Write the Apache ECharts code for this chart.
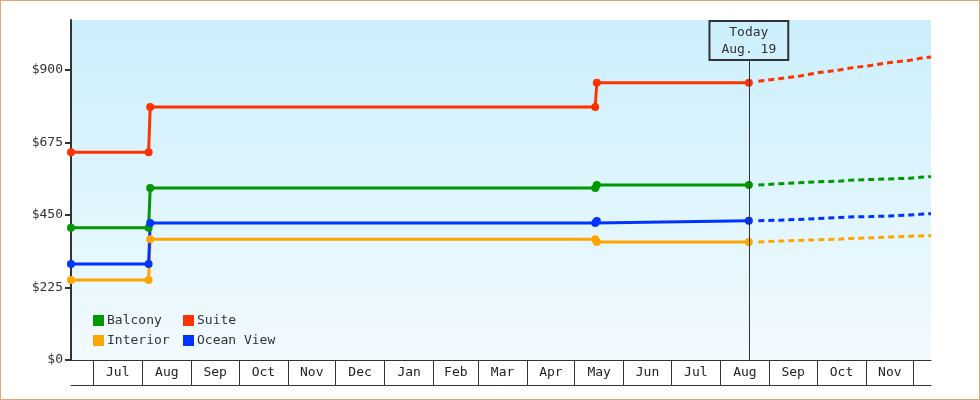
<!DOCTYPE html>
<html>
<head>
<meta charset="utf-8">
<script src="https://cdn.jsdelivr.net/npm/echarts@6/dist/echarts.min.js"></script>
<style>
  body { margin: 0; background: #fff; }
  #wrap { position: relative; width: 980px; height: 400px; }
  #chart { width: 980px; height: 400px; }
  #frame { position: absolute; left: 0; top: 0; width: 980px; height: 400px; box-sizing: border-box;
           border: 1px solid #e3a66b; pointer-events: none; }
</style>
</head>
<body>
<div id="wrap">
  <div id="chart"></div>
  <div id="frame"></div>
</div>
<script>
// month names shown under the axis (one per full month band)
const monthNames = ['Jul','Aug','Sep','Oct','Nov','Dec','Jan','Feb','Mar','Apr','May','Jun','Jul','Aug','Sep','Oct','Nov'];
const yTicks = [0, 225, 450, 675, 900];

// history (solid lines)
const histDates = ['2018-06-17','2018-08-05','2018-08-06','2019-05-14','2019-05-15','2019-08-19'];
const balcony   = [410, 410, 534, 534, 543, 543];
const suite     = [645, 645, 785, 785, 860, 860];
const interior  = [248, 248, 375, 375, 366, 366];
const oceanView = [298, 298, 425, 425, 431, 432];

// forecast (dashed lines)
const fcDates = ['2019-08-25','2019-09-07','2019-09-19','2019-10-02','2019-10-15','2019-10-22','2019-11-04','2019-11-16','2019-11-29','2019-12-05','2019-12-12'];
const balconyFc   = [543, 547, 550, 553, 555, 558, 560, 562, 564, 567, 569];
const suiteFc     = [865, 873, 880, 892, 900, 906, 914, 923, 930, 936, 940];
const interiorFc  = [366, 369, 371, 373, 375, 377, 379, 382, 384, 385, 386];
const oceanViewFc = [432, 434, 436, 439, 442, 444, 445, 447, 450, 452, 454];

const today = '2019-08-19';
const todayLabel = 'Today\nAug. 19';

const FONT = 'DejaVu Sans Mono';
const colors = { Balcony: '#009900', Suite: '#ff3300', Interior: '#ffa500', 'Ocean View': '#0033ff' };

// 'YYYY-MM-DD' -> local timestamp
function ts(s) {
  const p = s.split('-');
  return new Date(+p[0], +p[1] - 1, +p[2]).getTime();
}

const xMin = ts('2018-06-17');
const xMax = ts('2019-12-12');

// month boundaries for the separator ticks, mid points for labels
const bounds = [];
for (let i = 0; i <= monthNames.length; i++) bounds.push(new Date(2018, 6 + i, 1).getTime());
const mids = [];
for (let i = 0; i < monthNames.length; i++) mids.push((bounds[i] + bounds[i + 1]) / 2);

function pairs(dates, vals) {
  return dates.map((d, i) => [ts(d), vals[i]]);
}

function histSeries(name, vals) {
  return {
    name: name, type: 'line', data: pairs(histDates, vals),
    symbol: 'circle', symbolSize: 8, showAllSymbol: true,
    itemStyle: { color: colors[name] },
    lineStyle: { color: colors[name], width: 3 },
    emphasis: { disabled: true }
  };
}
function fcSeries(name, vals) {
  return {
    name: name, type: 'line', data: pairs(fcDates, vals),
    showSymbol: false,
    itemStyle: { color: colors[name] },
    lineStyle: { color: colors[name], width: 3, type: [6, 4] },
    emphasis: { disabled: true }
  };
}

const series = [
  histSeries('Balcony', balcony),
  histSeries('Suite', suite),
  histSeries('Interior', interior),
  histSeries('Ocean View', oceanView),
  fcSeries('Balcony', balconyFc),
  fcSeries('Suite', suiteFc),
  fcSeries('Interior', interiorFc),
  fcSeries('Ocean View', oceanViewFc)
];

// today marker
series[0].markLine = {
  silent: true,
  symbol: ['none', 'none'],
  animation: false,
  lineStyle: { color: '#333', width: 1, type: 'solid' },
  label: {
    show: true, position: 'end', distance: 0,
    formatter: todayLabel,
    fontFamily: FONT, fontSize: 13, color: '#333', lineHeight: 17,
    borderColor: '#333', borderWidth: 1, padding: [3, 12, 2, 12],
    backgroundColor: 'transparent'
  },
  data: [[{ coord: [ts(today), 0] }, { coord: [ts(today), 931] }]]
};

const legendBase = {
  orient: 'vertical', top: 314, padding: 0, itemWidth: 11, itemHeight: 11, itemGap: 7, icon: 'rect',
  textStyle: { fontFamily: FONT, fontSize: 13, color: '#333', padding: [0, 0, 0, -2] },
  selectedMode: false
};

const chart = echarts.init(document.getElementById('chart'));
chart.setOption({
  animation: false,
  textStyle: { fontFamily: FONT },
  grid: {
    left: 71, right: 49, top: 20, bottom: 40, show: true, borderWidth: 0,
    backgroundColor: new echarts.graphic.LinearGradient(0, 0, 0, 1, [
      { offset: 0, color: '#cbeffc' },
      { offset: 1, color: '#f2faff' }
    ])
  },
  legend: [
    Object.assign({}, legendBase, { left: 93, data: ['Balcony', 'Interior'] }),
    Object.assign({}, legendBase, { left: 183, data: ['Suite', 'Ocean View'] })
  ],
  xAxis: [{
    type: 'value', min: xMin, max: xMax, scale: true,
    axisLine: { show: true, lineStyle: { color: '#333', width: 1 } },
    axisTick: { show: true, customValues: bounds, length: 25, lineStyle: { color: '#333', width: 1 } },
    axisLabel: {
      customValues: mids, margin: 6, fontFamily: FONT, fontSize: 13, color: '#222',
      formatter: function (v) {
        const i = mids.indexOf(v);
        return i >= 0 ? monthNames[i] : '';
      }
    },
    splitLine: { show: false }
  }, {
    type: 'value', min: xMin, max: xMax, scale: true, position: 'bottom', offset: 25,
    axisLine: { show: true, lineStyle: { color: '#333', width: 1 } },
    axisTick: { show: false }, axisLabel: { show: false }, splitLine: { show: false }
  }],
  yAxis: {
    type: 'value', min: 0, max: 1055,
    axisLine: { show: true, lineStyle: { color: '#333', width: 2 } },
    axisTick: { show: true, customValues: yTicks, length: 6, lineStyle: { color: '#333', width: 2 } },
    axisLabel: {
      customValues: yTicks, margin: 8, fontFamily: FONT, fontSize: 13, color: '#333',
      formatter: v => '$' + v
    },
    splitLine: { show: false }
  },
  series: series
});
</script>
</body>
</html>
